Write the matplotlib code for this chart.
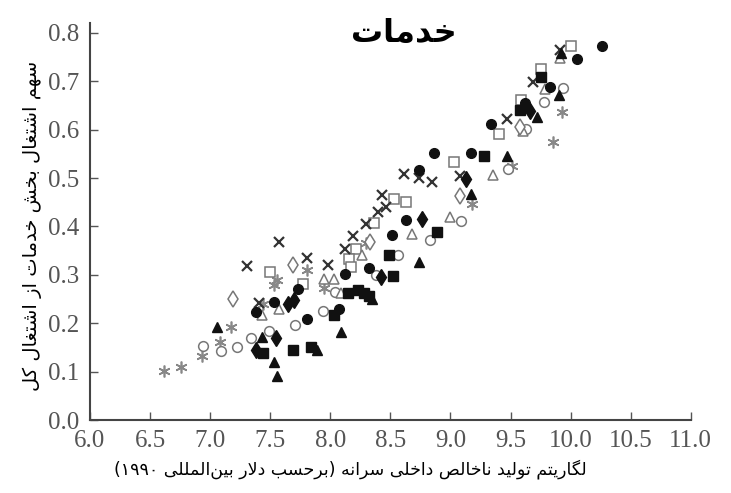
import re
import matplotlib
matplotlib.use("Agg")
import matplotlib.pyplot as plt

# Persian text (logical order)
title_text = "خدمات"
xlabel_text = "لگاریتم تولید ناخالص داخلی سرانه (برحسب دلار بین\u200cالمللی ۱۹۹۰)"
ylabel_text = "سهم اشتغال بخش خدمات از اشتغال کل"

x_ticks = [6.0, 6.5, 7.0, 7.5, 8.0, 8.5, 9.0, 9.5, 10.0, 10.5, 11.0]
y_ticks = [0.0, 0.1, 0.2, 0.3, 0.4, 0.5, 0.6, 0.7, 0.8]

# filled circles
fc_x = [10.26, 10.05, 9.83, 9.62, 9.34, 8.86, 9.17, 8.74, 8.63, 8.51, 8.32, 8.12, 7.73, 7.53, 7.38, 7.81, 8.07]
fc_y = [0.773, 0.746, 0.689, 0.655, 0.612, 0.551, 0.551, 0.517, 0.413, 0.382, 0.315, 0.302, 0.270, 0.243, 0.223, 0.209, 0.229]
# open circles
oc_x = [9.94, 9.78, 9.63, 9.48, 9.09, 8.83, 8.56, 8.38, 8.04, 7.94, 7.71, 7.49, 7.34, 7.22, 7.09, 6.94]
oc_y = [0.687, 0.658, 0.601, 0.518, 0.411, 0.371, 0.341, 0.299, 0.265, 0.226, 0.197, 0.183, 0.169, 0.151, 0.142, 0.153]
# filled squares
fs_x = [9.75, 9.58, 9.28, 8.89, 8.49, 8.52, 8.15, 8.23, 8.28, 8.32, 8.03, 7.84, 7.69, 7.44]
fs_y = [0.709, 0.640, 0.545, 0.388, 0.342, 0.298, 0.263, 0.269, 0.262, 0.256, 0.217, 0.151, 0.144, 0.139]
# open squares
os_x = [10.00, 9.75, 9.59, 9.40, 9.03, 8.53, 8.63, 8.36, 8.21, 8.16, 8.17, 7.77, 7.50]
os_y = [0.773, 0.725, 0.661, 0.592, 0.533, 0.457, 0.451, 0.408, 0.353, 0.332, 0.317, 0.282, 0.305]
# filled triangles
ft_x = [9.92, 9.90, 9.64, 9.72, 9.47, 9.17, 8.74, 8.35, 7.89, 8.09, 7.43, 7.06, 7.53, 7.56]
ft_y = [0.758, 0.671, 0.648, 0.627, 0.545, 0.468, 0.327, 0.251, 0.144, 0.182, 0.171, 0.192, 0.120, 0.092]
# open triangles
ot_x = [9.91, 9.79, 9.60, 9.35, 9.00, 8.68, 8.26, 7.95, 8.03, 8.09, 7.57, 7.43]
ot_y = [0.749, 0.685, 0.597, 0.507, 0.420, 0.384, 0.342, 0.291, 0.291, 0.262, 0.229, 0.216]
# crosses
xm_x = [9.91, 9.69, 9.47, 9.08, 8.85, 8.74, 8.61, 8.43, 8.46, 8.40, 8.30, 8.19, 8.12, 7.98, 7.81, 7.57, 7.31, 7.41]
xm_y = [0.764, 0.699, 0.623, 0.505, 0.492, 0.500, 0.508, 0.464, 0.440, 0.430, 0.406, 0.380, 0.353, 0.320, 0.334, 0.368, 0.318, 0.241]
# asterisks
as_x = [9.93, 9.85, 9.51, 9.18, 8.30, 7.81, 7.95, 7.56, 7.53, 7.44, 7.17, 7.08, 6.93, 6.76, 6.62]
as_y = [0.636, 0.574, 0.524, 0.447, 0.365, 0.310, 0.272, 0.289, 0.279, 0.240, 0.192, 0.161, 0.132, 0.110, 0.101]
# filled diamonds
fd_x = [9.66, 9.13, 8.76, 8.42, 7.70, 7.65, 7.55, 7.38]
fd_y = [0.638, 0.498, 0.416, 0.296, 0.248, 0.240, 0.169, 0.144]
# open diamonds
od_x = [9.58, 9.08, 8.33, 7.69, 7.19]
od_y = [0.606, 0.462, 0.368, 0.320, 0.251]

# contextual forms: isolated, final, initial, medial
FORMS = {
    "ا": ("\uFE8D", "\uFE8E", None, None),
    "ب": ("\uFE8F", "\uFE90", "\uFE91", "\uFE92"),
    "ت": ("\uFE95", "\uFE96", "\uFE97", "\uFE98"),
    "ح": ("\uFEA1", "\uFEA2", "\uFEA3", "\uFEA4"),
    "خ": ("\uFEA5", "\uFEA6", "\uFEA7", "\uFEA8"),
    "د": ("\uFEA9", "\uFEAA", None, None),
    "ر": ("\uFEAD", "\uFEAE", None, None),
    "ز": ("\uFEAF", "\uFEB0", None, None),
    "س": ("\uFEB1", "\uFEB2", "\uFEB3", "\uFEB4"),
    "ش": ("\uFEB5", "\uFEB6", "\uFEB7", "\uFEB8"),
    "ص": ("\uFEB9", "\uFEBA", "\uFEBB", "\uFEBC"),
    "غ": ("\uFECD", "\uFECE", "\uFECF", "\uFED0"),
    "ل": ("\uFEDD", "\uFEDE", "\uFEDF", "\uFEE0"),
    "م": ("\uFEE1", "\uFEE2", "\uFEE3", "\uFEE4"),
    "ن": ("\uFEE5", "\uFEE6", "\uFEE7", "\uFEE8"),
    "ه": ("\uFEE9", "\uFEEA", "\uFEEB", "\uFEEC"),
    "و": ("\uFEED", "\uFEEE", None, None),
    "ی": ("\uFBFC", "\uFBFD", "\uFBFE", "\uFBFF"),
    "ک": ("\uFB8E", "\uFB8F", "\uFB90", "\uFB91"),
    "گ": ("\uFB92", "\uFB93", "\uFB94", "\uFB95"),
}


def fa(text):
    """Shape Persian letters and put them in visual (left-to-right) order."""
    out = []
    i = 0
    while i < len(text):
        c = text[i]
        if c not in FORMS:
            if c != "\u200c":
                out.append(c)
            i += 1
            continue
        prev = text[i - 1] if i > 0 else ""
        join_prev = prev in FORMS and FORMS[prev][2] is not None
        if c == "ل" and i + 1 < len(text) and text[i + 1] == "ا":
            out.append("\uFEFC" if join_prev else "\uFEFB")
            i += 2
            continue
        nxt = text[i + 1] if i + 1 < len(text) else ""
        join_next = FORMS[c][2] is not None and nxt in FORMS
        iso, fin, ini, med = FORMS[c]
        if join_prev and join_next:
            out.append(med)
        elif join_prev:
            out.append(fin)
        elif join_next:
            out.append(ini)
        else:
            out.append(iso)
        i += 1
    s = "".join(out)[::-1]
    s = re.sub(r"[0-9\u06F0-\u06F9]+", lambda m: m.group(0)[::-1], s)
    return s.translate({ord("("): ")", ord(")"): "("})


fig = plt.figure(figsize=(7.31, 4.93), dpi=100)
ax = fig.add_axes([0.123, 0.148, 0.822, 0.805])

black = "#111111"
gray = "#777777"
ms = 7
ax.plot(as_x, as_y, ls="none", marker=(6, 2, 0), ms=8.5, mec="#888888", mew=1.2)
ax.plot(oc_x, oc_y, ls="none", marker="o", ms=ms, mfc="white", mec=gray, mew=1.1)
ax.plot(os_x, os_y, ls="none", marker="s", ms=ms, mfc="white", mec=gray, mew=1.1)
ax.plot(ot_x, ot_y, ls="none", marker="^", ms=ms, mfc="white", mec=gray, mew=1.1)
ax.plot(od_x, od_y, ls="none", marker="d", ms=ms + 1.5, mfc="white", mec=gray, mew=1.1)
ax.plot(xm_x, xm_y, ls="none", marker="x", ms=6.5, mec="#333333", mew=1.6)
ax.plot(fc_x, fc_y, ls="none", marker="o", ms=ms, mfc=black, mec=black)
ax.plot(fs_x, fs_y, ls="none", marker="s", ms=ms, mfc=black, mec=black)
ax.plot(ft_x, ft_y, ls="none", marker="^", ms=ms, mfc=black, mec=black)
ax.plot(fd_x, fd_y, ls="none", marker="d", ms=ms + 1.5, mfc=black, mec=black)

ax.set_xlim(6.0, 11.0)
ax.set_ylim(0.0, 0.82)
ax.set_xticks(x_ticks)
ax.set_yticks(y_ticks)
ax.set_xticklabels([f"{v:.1f}" for v in x_ticks])
ax.set_yticklabels([f"{v:.1f}" for v in y_ticks])
ax.tick_params(direction="in", length=6, width=1, color="#555555",
               labelcolor="#555555", labelsize=18)
ax.tick_params(axis="y", pad=8)
ax.tick_params(axis="x", pad=7)
for lab in ax.get_xticklabels() + ax.get_yticklabels():
    lab.set_family("Liberation Serif")
for side in ("top", "right"):
    ax.spines[side].set_visible(False)
for side in ("left", "bottom"):
    ax.spines[side].set_color("#444444")
    ax.spines[side].set_linewidth(1.5)

ax.set_xlabel(fa(xlabel_text), fontsize=12.5, family="DejaVu Sans")
ax.xaxis.set_label_coords(0.433, -0.10)
ax.set_ylabel(fa(ylabel_text), fontsize=14, family="DejaVu Sans")
ax.yaxis.set_label_coords(-0.08, 0.49)
fig.text(0.552, 0.933, fa(title_text), fontsize=23, fontweight="bold",
         family="DejaVu Sans", ha="center", va="center")

fig.savefig("out.png", dpi=100)
